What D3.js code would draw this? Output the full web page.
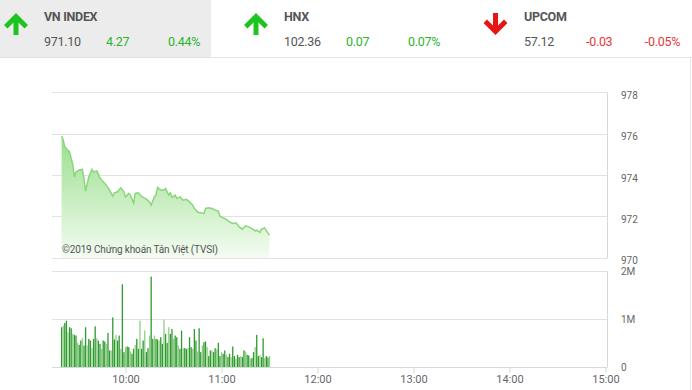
<!DOCTYPE html>
<html>
<head>
<meta charset="utf-8">
<script src="https://cdn.jsdelivr.net/npm/d3@7"></script>
<style>
  html, body { margin: 0; padding: 0; background: #fff; }
  svg { display: block; font-family: Roboto, "Liberation Sans", sans-serif; }
</style>
</head>
<body>
<svg id="chart" width="692" height="390"></svg>
<script>
// Header data
const indexNames = ["VN INDEX", "HNX", "UPCOM"];
const indexValues = ["971.10", "102.36", "57.12"];
const indexChanges = ["4.27", "0.07", "-0.03"];
const indexPercents = ["0.44%", "0.07%", "-0.05%"];

// Price line (time, index value)
const priceTimes = ["9:20","9:21","9:22","9:24","9:25","9:26","9:27","9:28","9:29","9:31","9:33","9:34","9:35","9:37","9:39","9:40","9:42","9:44","9:46","9:48","9:50","9:52","9:53","9:55","9:57","9:59","10:00","10:02","10:03","10:05","10:06","10:08","10:09","10:11","10:13","10:15","10:16","10:18","10:19","10:20","10:22","10:24","10:25","10:27","10:28","10:29","10:31","10:32","10:34","10:36","10:38","10:40","10:42","10:43","10:45","10:46","10:49","10:50","10:52","10:54","10:56","10:58","10:59","11:01","11:03","11:05","11:07","11:09","11:11","11:13","11:15","11:17","11:19","11:21","11:22","11:24","11:25","11:27","11:28","11:30"];
const priceValues = [975.88,975.69,975.37,975.2,975.12,974.8,974.5,973.91,974.15,974.24,974.27,973.84,973.22,973.91,974.27,974.15,974.2,973.86,973.67,973.51,973.27,972.98,973.14,973.19,973.38,973.19,972.94,973.11,973.03,972.65,973.11,973.14,973.03,972.92,972.83,972.7,972.54,972.94,973.03,973.4,973.27,973.27,973.35,973.03,973.14,972.92,973.03,972.87,972.94,972.78,972.82,972.7,972.54,972.38,972.22,972.19,972.14,972.38,972.41,972.38,972.3,972.25,972.01,971.93,971.85,971.73,971.66,971.69,971.49,971.38,971.54,971.49,971.41,971.3,971.33,971.22,971.38,971.44,971.3,971.09];

// Volume per minute from 9:20 (thousand shares)
const volumeStart = "9:20";
const volumes = [828,862,917,966,724,828,807,690,669,655,503,462,552,600,448,828,448,586,552,393,586,848,600,552,483,379,552,531,483,710,345,345,1034,572,669,552,655,379,1724,310,414,428,414,324,276,379,462,586,379,966,379,552,759,310,393,655,1883,586,655,586,572,552,621,483,986,690,503,828,690,793,586,655,621,448,379,759,393,393,379,393,621,414,379,793,552,324,807,310,448,517,531,414,228,345,345,310,393,366,503,228,310,276,345,255,207,276,207,428,228,172,255,207,228,207,345,324,255,241,172,186,310,414,669,228,255,207,600,186,228,200,230];

const priceTicks = [970, 972, 974, 976, 978];
const volumeTicks = [0, 1000, 2000];
const volumeTickLabels = ["0", "1M", "2M"];
const timeTicks = ["10:00", "11:00", "12:00", "13:00", "14:00", "15:00"];

const parseTime = d3.timeParse("%H:%M");
const svg = d3.select("#chart");

// ---- header ----
svg.append("rect").attr("x", 0).attr("y", 0).attr("width", 211).attr("height", 57).attr("fill", "#ececec");
svg.append("line").attr("x1", 0).attr("x2", 692).attr("y1", 57.5).attr("y2", 57.5).attr("stroke", "#e4e4e4");
svg.append("line").attr("x1", 690.5).attr("x2", 690.5).attr("y1", 58).attr("y2", 390).attr("stroke", "#e8e8e8");

const blockX = [0, 240, 480];
const upArrow = "M12,0 L24,12 L20.5,15.5 L14.5,9.5 L14.5,22 L9.5,22 L9.5,9.5 L3.5,15.5 L0,12 Z";
indexNames.forEach((name, i) => {
    const x0 = blockX[i];
    const down = indexChanges[i].startsWith("-");
    const textColor = down ? "#e03a3a" : "#2cb52c";
    const g = svg.append("g");
    g.append("path")
        .attr("d", upArrow)
        .attr("fill", down ? "#e81515" : "#1ec41e")
        .attr("transform", down
            ? `translate(${x0 + 3.5},${35}) scale(1,-1)`
            : `translate(${x0 + 4},${13})`);
    const tx = x0 + 44;
    g.append("text").attr("x", tx).attr("y", 20.5).attr("font-size", 12.5).attr("font-weight", "bold")
        .attr("fill", "#555").attr("letter-spacing", -0.3).text(name);
    g.append("text").attr("x", tx).attr("y", 46).attr("font-size", 12.5)
        .attr("fill", "#555").attr("letter-spacing", -0.3).text(indexValues[i]);
    g.append("text").attr("x", tx + 62).attr("y", 46).attr("font-size", 12.5)
        .attr("fill", textColor).attr("letter-spacing", -0.3).text(indexChanges[i]);
    g.append("text").attr("x", tx + 156).attr("y", 46).attr("font-size", 12.5).attr("text-anchor", "end")
        .attr("fill", textColor).attr("letter-spacing", -0.3).text(indexPercents[i]);
});

// ---- scales ----
const x = d3.scaleTime()
    .domain([parseTime("9:14"), parseTime("15:01")])
    .range([52, 607]);
const yPrice = d3.scaleLinear().domain([970, 978]).range([257.7, 92.3]);
const yVol = d3.scaleLinear().domain([0, 2000]).range([367, 271]);

// ---- price panel ----
const grid = svg.append("g");
priceTicks.forEach(t => {
    grid.append("line").attr("x1", 52).attr("x2", 607.5)
        .attr("y1", Math.round(yPrice(t)) + 0.5).attr("y2", Math.round(yPrice(t)) + 0.5)
        .attr("stroke", "#e2e2e2");
    svg.append("text").attr("x", 621).attr("y", yPrice(t) + 3).attr("dy", "0.35em")
        .attr("font-size", 10).attr("fill", "#666").text(t);
});
grid.append("line").attr("x1", 607.5).attr("x2", 607.5).attr("y1", 92.5).attr("y2", 258)
    .attr("stroke", "#d5d9dd");

const defs = svg.append("defs");
const grad = defs.append("linearGradient").attr("id", "areaGrad")
    .attr("gradientUnits", "userSpaceOnUse")
    .attr("x1", 0).attr("x2", 0).attr("y1", 135).attr("y2", 258);
grad.append("stop").attr("offset", 0).attr("stop-color", "#98de8a");
grad.append("stop").attr("offset", 1).attr("stop-color", "#f4fcf2");

const priceData = priceTimes.map((t, i) => ({ t: parseTime(t), v: priceValues[i] }));
svg.append("path").datum(priceData)
    .attr("fill", "url(#areaGrad)")
    .attr("d", d3.area().x(d => x(d.t)).y0(yPrice(970)).y1(d => yPrice(d.v)));
svg.append("path").datum(priceData)
    .attr("fill", "none").attr("stroke", "#8ad67b").attr("stroke-width", 1.5)
    .attr("d", d3.line().x(d => x(d.t)).y(d => yPrice(d.v)));

svg.append("text").attr("x", 62).attr("y", 253).attr("font-size", 10).attr("fill", "#555")
    .attr("letter-spacing", -0.15)
    .text("©2019 Chứng khoán Tân Việt (TVSI)");

// ---- volume panel ----
volumeTicks.forEach((t, i) => {
    svg.append("line").attr("x1", 52).attr("x2", 607.5)
        .attr("y1", Math.round(yVol(t)) + 0.5).attr("y2", Math.round(yVol(t)) + 0.5)
        .attr("stroke", t === 0 ? "#d5d9dd" : "#e2e2e2");
    svg.append("text").attr("x", 621).attr("y", yVol(t)).attr("dy", "0.35em")
        .attr("font-size", 10).attr("fill", "#666").text(volumeTickLabels[i]);
});
svg.append("line").attr("x1", 607.5).attr("x2", 607.5).attr("y1", 271).attr("y2", 367)
    .attr("stroke", "#d5d9dd");

const start = parseTime(volumeStart);
svg.append("g").selectAll("rect").data(volumes).join("rect")
    .attr("x", (d, i) => x(d3.timeMinute.offset(start, i)) - 0.65)
    .attr("y", d => yVol(d))
    .attr("width", 1.3)
    .attr("height", d => yVol(0) - yVol(d))
    .attr("fill", (d, i) => i % 3 === 1 ? "#8fd086" : "#2f9a2f");

// ---- time axis ----
const xAxis = d3.axisBottom(x)
    .tickValues(timeTicks.map(parseTime))
    .tickFormat(d3.timeFormat("%H:%M"))
    .tickSize(6);
const ax = svg.append("g").attr("transform", "translate(0,367)").call(xAxis);
ax.select(".domain").remove();
ax.selectAll(".tick line").attr("stroke", "#d5d9dd");
ax.selectAll(".tick text").attr("fill", "#666").attr("font-size", 11)
    .attr("font-family", "Roboto, sans-serif").attr("y", 8);
</script>
</body>
</html>
